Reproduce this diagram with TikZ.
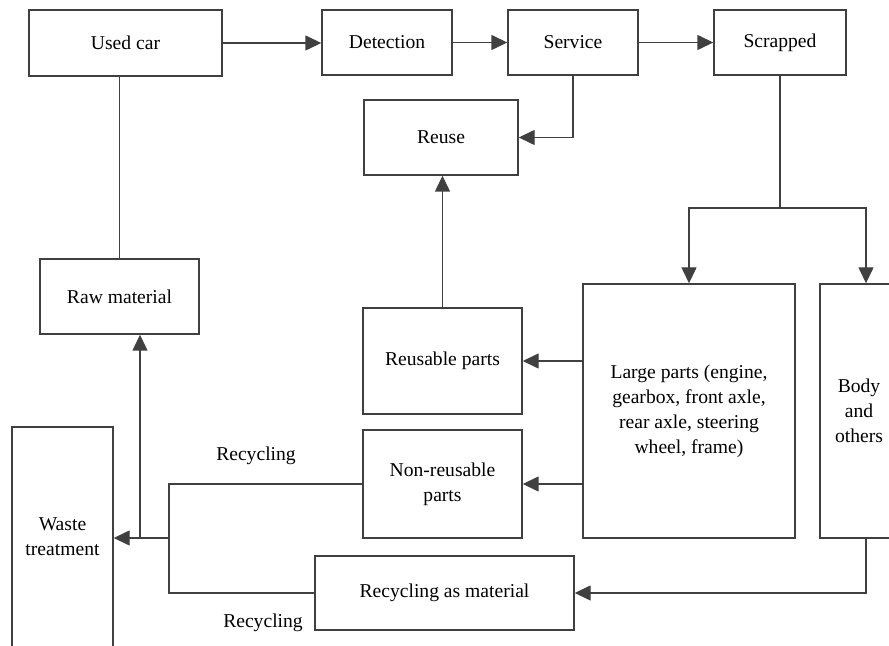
\documentclass[tikz,border=0pt]{standalone}
\usepackage{fontspec}
\setmainfont{Liberation Serif}
\usetikzlibrary{arrows.meta}
\definecolor{ln}{HTML}{404040}
\begin{document}
\begin{tikzpicture}[x=0.5pt,y=-0.5pt,
  box/.style={draw=ln, line width=0.7pt, rectangle, inner sep=0pt, align=center,
    font=\fontsize{9.8}{12.5}\selectfont},
  conn/.style={draw=ln, line width=0.7pt},
  arr/.style={conn, -{Triangle[length=8pt,width=7.5pt]}},
  lbl/.style={inner sep=0pt, font=\fontsize{9.8}{12.5}\selectfont}]
\useasboundingbox (0,0) rectangle (889,646);
\clip (0,0) rectangle (889,646);
\node[box, minimum width=96.5pt, minimum height=33pt] (used) at (125.5,43) {Used car};
\node[box, minimum width=65pt, minimum height=32.5pt] (det) at (387,42.5) {Detection};
\node[box, minimum width=65pt, minimum height=32.5pt] (serv) at (573,42.5) {Service};
\node[box, minimum width=66pt, minimum height=32.5pt] (scr) at (780,42.5) {Scrapped};
\node[box, minimum width=77pt, minimum height=37.5pt] (reuse) at (441,137.5) {Reuse};
\node[box, minimum width=79.5pt, minimum height=37.5pt] (raw) at (119.5,296.5) {Raw material};
\node[box, minimum width=106pt, minimum height=127pt] (large) at (689,411) {Large parts (engine,\\gearbox, front axle,\\rear axle, steering\\wheel, frame)};
\node[box, minimum width=39pt, minimum height=127pt] (body) at (859,411) {Body\\and\\others};
\node[box, minimum width=79.5pt, minimum height=53pt] (reusable) at (442.5,361) {Reusable parts};
\node[box, minimum width=79.5pt, minimum height=54pt] (nonre) at (442.5,484) {Non-reusable\\parts};
\node[box, minimum width=129.5pt, minimum height=37pt] (recmat) at (444.5,593) {Recycling as material};
\node[box, minimum width=50.5pt, minimum height=110pt] (waste) at (62.5,537) {Waste\\treatment};
\node[lbl] (l1) at (256,456) {Recycling};
\node[lbl] (l2) at (263,623) {Recycling};
\coordinate (split) at (780,208);
\coordinate (bx) at (866,208);
\coordinate (jx) at (169,538);
\coordinate (rx) at (140,538);
\draw[arr] (used.east) -- (used.east -| det.west);
\draw[arr] (det.east) -- (serv.west);
\draw[arr] (serv.east) -- (scr.west);
\draw[arr] (serv.south) |- (reuse.east);
\draw[conn] (raw.north) -- (raw.north |- used.south);
\draw[conn] (scr.south) -- (split);
\draw[arr] (split) -| (large.north);
\draw[arr] (split) -- (bx) -- (bx |- body.north);
\draw[arr] (bx |- body.south) |- (recmat.east);
\draw[arr] (large.west |- reusable.east) -- (reusable.east);
\draw[arr] (large.west |- nonre.east) -- (nonre.east);
\draw[arr] (reusable.north) -- (reusable.north |- reuse.south);
\draw[conn] (nonre.west) -| (jx) |- (recmat.west);
\draw[arr] (jx) -- (jx -| waste.east);
\draw[arr] (rx) -- (rx |- raw.south);
\end{tikzpicture}
\end{document}
